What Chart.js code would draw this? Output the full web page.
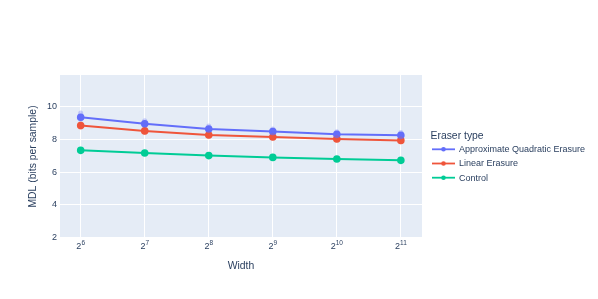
<!DOCTYPE html>
<html>
<head>
<meta charset="utf-8">
<script src="https://cdn.jsdelivr.net/npm/chart.js@4"></script>
<style>
  html, body { margin: 0; padding: 0; background: #fff; }
  #wrap { width: 598px; height: 299px; }
</style>
</head>
<body>
<div id="wrap"><canvas id="mdlChart"></canvas></div>
<script>
  const widths = [64, 128, 256, 512, 1024, 2048];
  const seriesNames = ['Approximate Quadratic Erasure', 'Linear Erasure', 'Control'];
  const seriesColors = ['#636efa', '#EF553B', '#00cc96'];
  const quadratic = [9.37, 8.97, 8.65, 8.49, 8.32, 8.26];
  const linear = [8.86, 8.53, 8.28, 8.16, 8.04, 7.95];
  const control = [7.34, 7.18, 7.02, 6.91, 6.81, 6.73];
  // spread of the runs around each mean (low, high)
  const quadraticLow = [9.25, 8.87, 8.56, 8.40, 8.24, 8.18];
  const quadraticHigh = [9.62, 9.15, 8.83, 8.64, 8.48, 8.44];
  const linearLow = [8.76, 8.45, 8.20, 8.09, 7.97, 7.87];
  const linearHigh = [8.96, 8.61, 8.36, 8.23, 8.11, 8.03];
  const controlLow = [7.31, 7.15, 6.99, 6.88, 6.78, 6.70];
  const controlHigh = [7.37, 7.21, 7.05, 6.94, 6.84, 6.76];
  const yTicks = [2, 4, 6, 8, 10];

  const values = [quadratic, linear, control];
  const lows = [quadraticLow, linearLow, controlLow];
  const highs = [quadraticHigh, linearHigh, controlHigh];
  const fontFamily = '"Liberation Sans", Arial, sans-serif';
  const textColor = '#2a3f5f';

  const plotBg = {
    id: 'plotBg',
    beforeDraw(chart) {
      const { ctx, chartArea: a } = chart;
      ctx.save();
      ctx.fillStyle = '#E5ECF6';
      ctx.fillRect(a.left, a.top, a.right - a.left, a.bottom - a.top);
      ctx.restore();
    }
  };

  const spreadBars = {
    id: 'spreadBars',
    afterDatasetsDraw(chart) {
      const { ctx, scales: { x, y } } = chart;
      ctx.save();
      lows.forEach((lo, i) => {
        ctx.strokeStyle = seriesColors[i];
        ctx.globalAlpha = 0.3;
        ctx.lineWidth = 5;
        ctx.lineCap = 'round';
        widths.forEach((w, j) => {
          const px = x.getPixelForValue(w);
          ctx.beginPath();
          ctx.moveTo(px, y.getPixelForValue(lo[j]));
          ctx.lineTo(px, y.getPixelForValue(highs[i][j]));
          ctx.stroke();
        });
      });
      ctx.restore();
    }
  };

  // x tick labels as 2 with a raised exponent
  const powerTicks = {
    id: 'powerTicks',
    afterDraw(chart) {
      const { ctx, scales: { x } } = chart;
      ctx.save();
      ctx.fillStyle = textColor;
      ctx.textBaseline = 'alphabetic';
      widths.forEach(w => {
        const exp = String(Math.round(Math.log2(w)));
        ctx.font = '9px ' + fontFamily;
        const bw = ctx.measureText('2').width;
        ctx.font = '6.5px ' + fontFamily;
        const ew = ctx.measureText(exp).width;
        const left = x.getPixelForValue(w) - (bw + ew) / 2;
        ctx.font = '9px ' + fontFamily;
        ctx.fillText('2', left, 248.5);
        ctx.font = '6.5px ' + fontFamily;
        ctx.fillText(exp, left + bw, 245);
      });
      ctx.restore();
    }
  };

  const sideLegend = {
    id: 'sideLegend',
    afterDraw(chart) {
      const ctx = chart.ctx;
      ctx.save();
      ctx.fillStyle = textColor;
      ctx.textBaseline = 'middle';
      ctx.font = '10.4px ' + fontFamily;
      ctx.fillText('Eraser type', 430.5, 136.5);
      ctx.font = '9px ' + fontFamily;
      seriesNames.forEach((name, i) => {
        const yy = 149.3 + i * 14.2;
        ctx.strokeStyle = seriesColors[i];
        ctx.lineWidth = 1.8;
        ctx.beginPath();
        ctx.moveTo(432, yy);
        ctx.lineTo(455, yy);
        ctx.stroke();
        ctx.fillStyle = seriesColors[i];
        ctx.beginPath();
        ctx.arc(443.5, yy, 2.3, 0, Math.PI * 2);
        ctx.fill();
        ctx.fillStyle = textColor;
        ctx.fillText(name, 459, yy + 0.5);
      });
      ctx.restore();
    }
  };

  new Chart(document.getElementById('mdlChart'), {
    type: 'line',
    data: {
      datasets: seriesNames.map((name, i) => ({
        label: name,
        data: widths.map((w, j) => ({ x: w, y: values[i][j] })),
        borderColor: seriesColors[i],
        backgroundColor: seriesColors[i],
        borderWidth: 2,
        pointRadius: 2.8,
        pointHoverRadius: 2.8,
        tension: 0
      }))
    },
    options: {
      responsive: true,
      maintainAspectRatio: false,
      animation: false,
      layout: { padding: { left: 0, top: 75, right: 176, bottom: 0 } },
      plugins: { legend: { display: false }, tooltip: { enabled: false } },
      scales: {
        x: {
          type: 'logarithmic',
          min: Math.pow(2, 5.677),
          max: Math.pow(2, 11.33),
          afterFit(s) { s.height = 61; },
          afterBuildTicks(s) { s.ticks = widths.map(v => ({ value: v })); },
          grid: { color: '#ffffff', lineWidth: 1, drawTicks: false },
          border: { display: false },
          ticks: { display: false },
          title: {
            display: true,
            text: 'Width',
            color: textColor,
            font: { family: fontFamily, size: 10.4 },
            padding: { top: 0, bottom: 26.8 }
          }
        },
        y: {
          min: 1.98,
          max: 11.95,
          afterFit(s) { s.width = 60; },
          afterBuildTicks(s) { s.ticks = yTicks.map(v => ({ value: v })); },
          grid: { color: '#ffffff', lineWidth: 1, drawTicks: false },
          border: { display: false },
          ticks: {
            padding: 3,
            color: textColor,
            font: { family: fontFamily, size: 9 }
          },
          title: {
            display: true,
            text: 'MDL (bits per sample)',
            color: textColor,
            font: { family: fontFamily, size: 10.4 },
            padding: { top: 26.5, bottom: 0 }
          }
        }
      }
    },
    plugins: [plotBg, spreadBars, powerTicks, sideLegend]
  });
</script>
</body>
</html>
